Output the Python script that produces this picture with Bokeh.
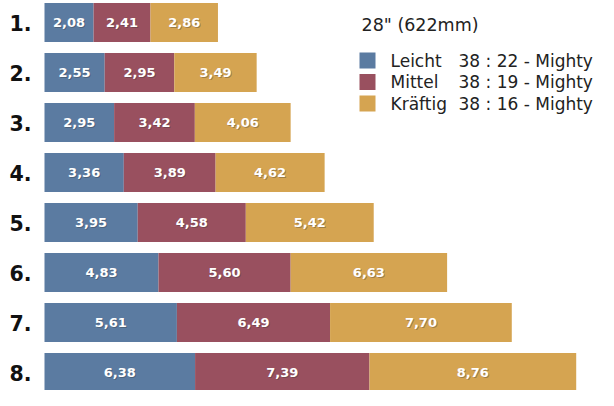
from bokeh.plotting import figure
from bokeh.models import Range1d, ColumnDataSource
from bokeh.core.properties import value
from bokeh.embed import file_html
from bokeh.resources import INLINE

rows = ["1.", "2.", "3.", "4.", "5.", "6.", "7.", "8."]
leicht = [2.08, 2.55, 2.95, 3.36, 3.95, 4.83, 5.61, 6.38]
mittel = [2.41, 2.95, 3.42, 3.89, 4.58, 5.60, 6.49, 7.39]
kraeftig = [2.86, 3.49, 4.06, 4.62, 5.42, 6.63, 7.70, 8.76]
series_names = ["Leicht", "Mittel", "Kräftig"]
series_ratios = ["38 : 22 - Mighty", "38 : 19 - Mighty", "38 : 16 - Mighty"]
legend_title = "28\" (622mm)"
colors = ["#5b7ba1", "#99505f", "#d5a451"]

W, H = 598, 390
PX_X = 23.6
PX_Y = 50.0
x0 = -44 / PX_X
y_top = 1 - 22 / PX_Y

p = figure(width=W, height=H, output_backend="svg", toolbar_location=None,
           x_range=Range1d(x0, x0 + W / PX_X),
           y_range=Range1d(y_top + H / PX_Y, y_top),
           min_border=0, outline_line_color=None)
p.axis.visible = False
p.grid.visible = False
p.background_fill_color = "white"

ys = list(range(1, len(rows) + 1))
series = [leicht, mittel, kraeftig]
left = [0.0] * len(rows)
for vals, col in zip(series, colors):
    right = [l + v for l, v in zip(left, vals)]
    src = ColumnDataSource(dict(y=ys, left=left, right=right,
                                mid=[(l + r) / 2 for l, r in zip(left, right)],
                                lab=[f"{v:.2f}".replace(".", ",") for v in vals]))
    p.hbar(y="y", left="left", right="right", height=0.78, source=src,
           fill_color=col, line_color=None)
    p.text(x="mid", y="y", text="lab", source=src, text_color="#333333", text_alpha=0.35,
           text_font=value("DejaVu Sans"), text_font_style="bold", text_font_size="13px",
           text_align="center", text_baseline="middle", x_offset=1, y_offset=1)
    p.text(x="mid", y="y", text="lab", source=src, text_color="white",
           text_font=value("DejaVu Sans"), text_font_style="bold", text_font_size="13px",
           text_align="center", text_baseline="middle")
    left = right

# row labels
p.text(x=[x0 + 9 / PX_X] * len(rows), y=ys, text=rows, text_color="#111111",
       text_font=value("DejaVu Sans"), text_font_style="bold", text_font_size="20.5px",
       text_align="left", text_baseline="middle")

def dx(px):
    return x0 + px / PX_X

def dy(py):
    return y_top + py / PX_Y

p.text(x=[dx(361)], y=[dy(24)], text=[legend_title], text_color="#222222",
       text_font=value("DejaVu Sans"), text_font_size="17.5px",
       text_align="left", text_baseline="middle")
leg_y = [dy(60), dy(81.5), dy(103)]
p.rect(x=[dx(367)] * 3, y=leg_y, width=16 / PX_X, height=16 / PX_Y,
       fill_color=colors, line_color=None)
p.text(x=[dx(390)] * 3, y=leg_y, text=series_names, text_color="#222222",
       text_font=value("DejaVu Sans"), text_font_size="17px",
       text_align="left", text_baseline="middle")
p.text(x=[dx(458)] * 3, y=leg_y, text=series_ratios, text_color="#222222",
       text_font=value("DejaVu Sans"), text_font_size="17px",
       text_align="left", text_baseline="middle")

open("out.html", "w").write(file_html(p, INLINE))
